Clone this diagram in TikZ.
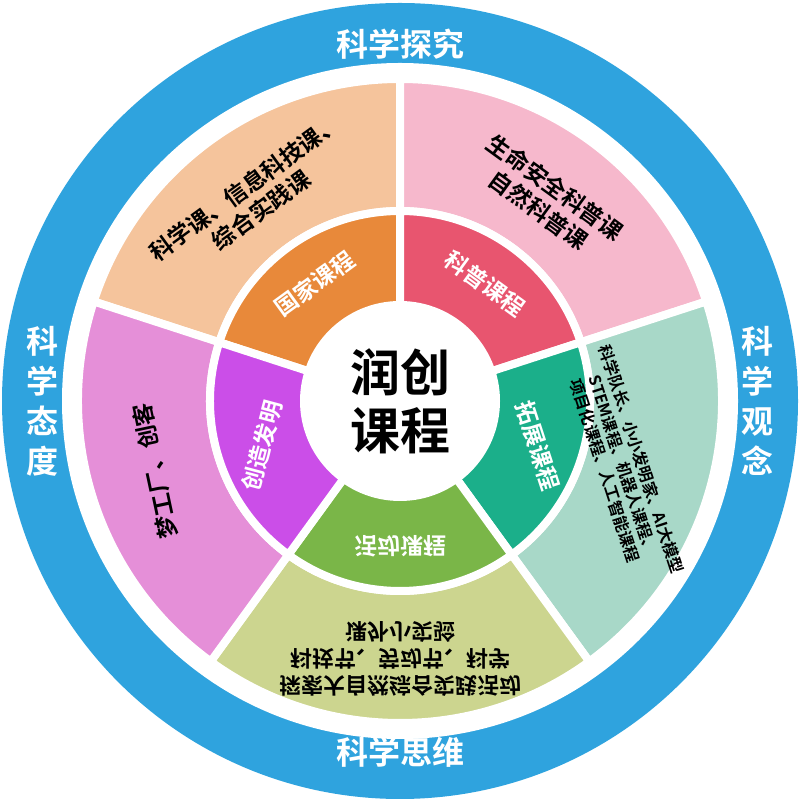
\documentclass[tikz,border=0pt]{standalone}
\usepackage{fontspec}
\setmainfont{Noto Sans CJK SC Bold}
\begin{document}
\begin{tikzpicture}[x=1pt,y=1pt,
  seg/.style={draw=white,line width=8pt,line join=round},
  ot/.style={font=\fontsize{23}{28}\selectfont,align=center,text=black},
  it/.style={font=\fontsize{23}{28}\selectfont,text=white},
  rl/.style={font=\fontsize{32}{36}\selectfont,text=white,align=center}]
\definecolor{blue}{HTML}{2FA3DE}
\definecolor{oo}{HTML}{F5C49C}\definecolor{io}{HTML}{E8893A}
\definecolor{op}{HTML}{F6B8CC}\definecolor{ip}{HTML}{E8556F}
\definecolor{ot}{HTML}{A8D8C8}\definecolor{itl}{HTML}{1BAF8A}
\definecolor{og}{HTML}{CCD58F}\definecolor{ig}{HTML}{7AB648}
\definecolor{ou}{HTML}{E58FD8}\definecolor{iu}{HTML}{CB4EE8}
\useasboundingbox (0,0) rectangle (800,802);
\begin{scope}[shift={(400,401)}]
\fill[blue] (0,0) circle (398);
\fill[white] (0,0) circle (338);
\foreach \a/\co/\ci in {90/oo/io,18/op/ip,-54/ot/itl,-126/og/ig,162/ou/iu}{
  \pgfmathsetmacro\b{\a+72}
  \filldraw[seg,fill=\co] (\a:190) arc (\a:\b:190) -- (\b:322) arc (\b:\a:322) -- cycle;
  \filldraw[seg,fill=\ci] (0,0) -- (\a:190) arc (\a:\b:190) -- cycle;
}
\fill[white] (0,0) circle (100);
\node[font=\fontsize{50}{58}\selectfont,align=center] (c) at (0,0) {润创\\课程};
\node[it,rotate=36] (i1) at (126:145) {国家课程};
\node[it,rotate=-36] (i2) at (54:145) {科普课程};
\node[it,rotate=-72] (i3) at (-18:145) {拓展课程};
\node[it,yscale=-1] (i4) at (-90:145) {活动课程};
\node[it,rotate=75] (i5) at (198:145) {创造发明};
\node[ot,rotate=36] (o1) at (126:250) {科学课、信息科技课、\\综合实践课};
\node[ot,rotate=-36] (o2) at (54:250) {生命安全科普课\\自然科普课};
\node[ot,rotate=-72,font=\fontsize{16}{19}\selectfont] (o3) at (-16:232) {科学队长、小小发明家、AI大模型\\STEM课程、机器人课程、\\项目化课程、人工智能课程};
\node[ot,yscale=-1,font=\fontsize{22}{27}\selectfont] (o4) at (-90:258) {探索大自然综合实践活动\\科技节、劳动节、科学\\课外小实验};
\node[ot,rotate=102] (o5) at (196:255) {梦工厂、创客};
\node[rl] (r1) at (0,357) {科学探究};
\node[rl] (r2) at (0,-351) {科学思维};
\node[rl,font=\fontsize{32}{40}\selectfont] (r3) at (357,0) {科\\学\\观\\念};
\node[rl,font=\fontsize{32}{40}\selectfont] (r4) at (-357,0) {科\\学\\态\\度};
\end{scope}
\end{tikzpicture}
\end{document}
